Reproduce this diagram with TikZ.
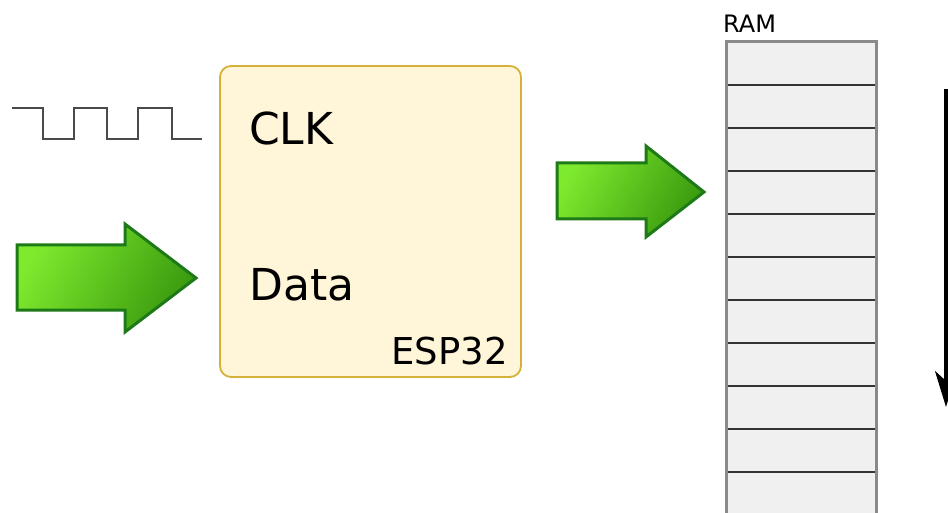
\documentclass[tikz,border=0pt]{standalone}
\usepackage{fontspec}
\setmainfont{DejaVu Sans}
\usetikzlibrary{arrows.meta}
\definecolor{boxfill}{HTML}{FFF5D8}
\definecolor{boxline}{HTML}{D4B23A}
\definecolor{arrline}{HTML}{1E7A18}
\definecolor{arrlight}{HTML}{7EEA2E}
\definecolor{arrdark}{HTML}{3A9A0E}
\definecolor{clkgray}{HTML}{4A4A4A}
\definecolor{ramfill}{HTML}{F0F0F0}
\definecolor{ramborder}{HTML}{8A8A8A}
\definecolor{ramline}{HTML}{333333}
\tikzset{
  greenarrow/.style={draw=arrline, line width=3pt, line join=miter, top color=arrlight, bottom color=arrdark, shading angle=60},
  esp/.style={draw=boxline, line width=1.8pt, fill=boxfill, rounded corners=11pt},
  bigtext/.style={font=\fontsize{44}{50}\selectfont, inner sep=0pt},
}
\begin{document}
\begin{tikzpicture}[x=1pt,y=-1pt]
\useasboundingbox (0,0) rectangle (948,513);
\clip (0,0) rectangle (948,513);
% clock waveform
\draw[clkgray, line width=2.4pt, line join=miter]
  (12,108) -- (43,108) -- (43,139) -- (74,139) -- (74,108) -- (107,108) -- (107,139)
  -- (138,139) -- (138,108) -- (172,108) -- (172,139) -- (202,139);
% left input arrow
\draw[greenarrow] (17,245) -- (125,245) -- (125,224) -- (196,278) -- (125,332) -- (125,310) -- (17,310) -- cycle;
% ESP32 box
\draw[esp] (220,66) rectangle (521,377);
\node[bigtext, anchor=base west] (clk) at (249,145) {CLK};
\node[bigtext, anchor=base west] (data) at (249,300) {Data};
\node[font=\fontsize{37}{42}\selectfont, inner sep=0pt, anchor=base east] (esp) at (508,364) {ESP32};
% output arrow
\draw[greenarrow] (557,163) -- (646,163) -- (646,146) -- (704,192) -- (646,237) -- (646,219) -- (557,219) -- cycle;
% RAM
\node[font=\fontsize{24}{28}\selectfont, inner sep=0pt, anchor=base west] (ramlbl) at (723,33) {RAM};
\fill[ramfill] (726,43) rectangle (876,530);
\foreach \i in {0,...,9} {
  \draw[ramline, line width=2pt] (726,{85.5+42.9*\i}) -- (876,{85.5+42.9*\i});
}
\draw[ramborder, line width=3pt] (726,530) -- (726,42) -- (876,42) -- (876,530);
% direction arrow
\coordinate (dtop) at (946,89);
\coordinate (dbot) at (946,407);
\draw[line width=3.2pt, -{Stealth[length=36pt, width=22pt, inset=10pt]}] (dtop) -- (dbot);
\end{tikzpicture}
\end{document}
